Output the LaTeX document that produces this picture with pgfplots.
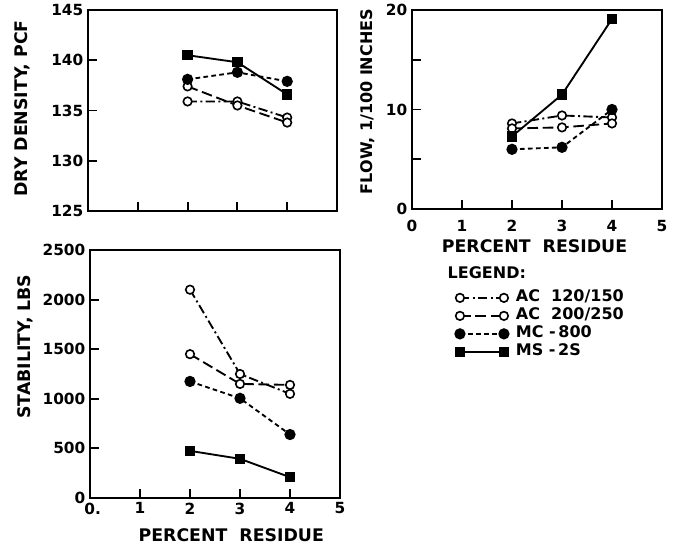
\documentclass[border=0pt]{standalone}
\usepackage{pgfplots}
\pgfplotsset{compat=1.18}
\usepackage{fontspec}
\setmainfont{DejaVu Sans}
\pgfplotsset{
  base/.style={
    scale only axis, clip=false,
    axis line style={line width=1.6pt},
    tick style={line width=1.4pt, black},
    major tick length=7pt,
    tick pos=left,
    xmin=0, xmax=5, xtick={0,...,5},
    ticklabel style={font=\bfseries\fontsize{11.5}{13}\selectfont},
    label style={font=\bfseries\fontsize{13}{15}\selectfont},
    /pgf/number format/assume math mode=true,
    /pgf/number format/1000 sep={},
    every axis plot/.append style={line width=1.4pt, black},
  },
  ac1/.style={dash pattern=on 7pt off 2.5pt on 1.5pt off 2.5pt, mark=*, mark size=3.2pt, mark options={solid, fill=white, line width=1.2pt}},
  ac2/.style={dash pattern=on 8pt off 3.5pt, mark=*, mark size=3.2pt, mark options={solid, fill=white, line width=1.2pt}},
  mc/.style={dash pattern=on 3.5pt off 2.5pt, mark=*, mark size=3.5pt, mark options={solid, fill=black}},
  ms/.style={solid, mark=square*, mark size=3.2pt, mark options={solid, fill=black}},
}
\begin{document}
\begin{tikzpicture}
\path[use as bounding box] (0,0) rectangle (508.5pt,-410.25pt);
% Dry density
\begin{axis}[base, at={(66pt,-7.5pt)}, anchor=north west,
  width=186.75pt, height=150.75pt,
  ymin=125, ymax=145, ytick={125,130,...,145},
  xticklabels={},
  ylabel={DRY DENSITY, PCF},
  ylabel style={at={(axis description cs:-0.265,0.51)}, anchor=center}]
\addplot[ac1] coordinates {(2,135.9)(3,135.9)(4,134.3)};
\addplot[ac2] coordinates {(2,137.4)(3,135.5)(4,133.8)};
\addplot[mc] coordinates {(2,138.1)(3,138.8)(4,137.9)};
\addplot[ms] coordinates {(2,140.5)(3,139.8)(4,136.6)};
\end{axis}
% Flow
\begin{axis}[base, at={(309pt,-7.5pt)}, anchor=north west,
  width=187.5pt, height=149.25pt,
  ymin=0, ymax=20, ytick={0,5,...,20}, yticklabels={0,,10,,20},
  xticklabel style={yshift=-5pt},
  xlabel={PERCENT\ \ RESIDUE},
  xlabel style={at={(axis description cs:0.49,-0.186)}, anchor=center},
  ylabel={FLOW, 1/100 INCHES},
  ylabel style={at={(axis description cs:-0.176,0.54)}, anchor=center, font=\bfseries\fontsize{12}{14}\selectfont},
  legend style={at={(axis description cs:0.172,-0.405)}, anchor=north west,
    draw=none, fill=none, font=\bfseries\fontsize{12}{13}\selectfont,
    row sep=1.5pt, inner sep=0pt,
    nodes={inner sep=0pt, text height=9pt, text depth=3pt},
    /tikz/every odd column/.append style={column sep=5.5pt}},
  legend cell align=left,
  legend image code/.code={\draw[#1] plot coordinates {(0pt,0pt) (33pt,0pt)};}]
\addplot[ac1] coordinates {(2,8.6)(3,9.4)(4,9.2)};
\addlegendentry{AC\ \ 120/150}
\addplot[ac2] coordinates {(2,8.1)(3,8.2)(4,8.6)};
\addlegendentry{AC\ \ 200/250}
\addplot[mc] coordinates {(2,6.0)(3,6.2)(4,10.0)};
\addlegendentry{MC\ -\,800}
\addplot[ms] coordinates {(2,7.3)(3,11.5)(4,19.1)};
\addlegendentry{MS\ -\,2S}
\node[anchor=west, font=\bfseries\fontsize{12}{13}\selectfont] at (axis description cs:0.124,-0.32) {LEGEND:};
\end{axis}
% Stability
\begin{axis}[base, at={(67.5pt,-187.5pt)}, anchor=north west,
  width=187.5pt, height=186pt,
  ymin=0, ymax=2500, ytick={0,500,...,2500},
  xticklabels={\hspace*{4pt}0.,1,2,3,4,5},
  xlabel={PERCENT\ \ RESIDUE},
  xlabel style={at={(axis description cs:0.565,-0.149)}, anchor=center},
  ylabel={STABILITY, LBS},
  ylabel style={at={(axis description cs:-0.26,0.61)}, anchor=center}]
\addplot[ac1] coordinates {(2,2100)(3,1250)(4,1050)};
\addplot[ac2] coordinates {(2,1450)(3,1150)(4,1140)};
\addplot[mc] coordinates {(2,1175)(3,1005)(4,640)};
\addplot[ms] coordinates {(2,475)(3,395)(4,210)};
\end{axis}
\end{tikzpicture}
\end{document}
